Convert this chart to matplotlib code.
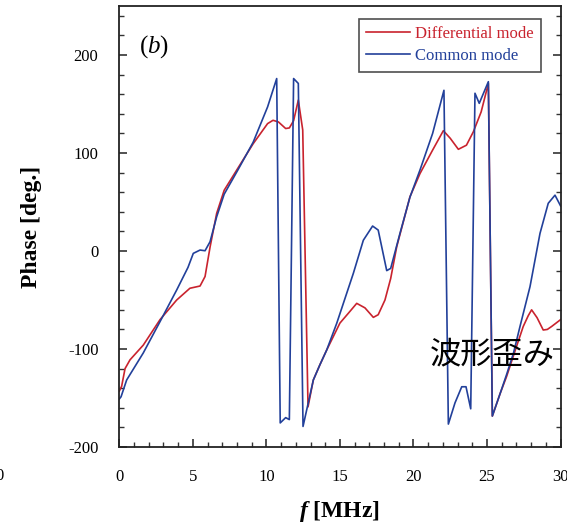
import matplotlib
matplotlib.use("Agg")
import matplotlib.pyplot as plt
from matplotlib.ticker import MultipleLocator

plt.rcParams['font.family'] = ['Liberation Serif', 'DejaVu Serif']
plt.rcParams['axes.unicode_minus'] = False
plt.rcParams['mathtext.fontset'] = 'custom'
plt.rcParams['mathtext.rm'] = 'Liberation Serif'
plt.rcParams['mathtext.it'] = 'Liberation Serif:italic'
plt.rcParams['mathtext.bf'] = 'Liberation Serif:bold'
plt.rcParams['mathtext.bfit'] = 'Liberation Serif:bold:italic'

# frequency [MHz] and phase [deg.]
f_diff = [0.0, 0.16, 0.39, 0.73, 1.63, 2.77, 3.9, 4.8, 5.49, 5.83, 6.17, 6.62, 7.13,
          8.11, 9.1, 10.08, 10.45, 10.82, 11.31, 11.56, 11.85, 12.17, 12.47, 12.83,
          13.19, 13.64, 14.1, 15.0, 15.6, 16.14, 16.7, 17.27, 17.6, 18.06, 18.45,
          18.86, 19.76, 20.44, 21.3, 22.03, 22.5, 23.05, 23.6, 24.07, 24.6, 25.09,
          25.36, 25.9, 26.33, 27.0, 27.46, 27.8, 28.03, 28.4, 28.82, 29.1, 29.39, 30.0]
ph_diff = [-143, -138, -120, -111, -96, -70, -50, -38, -35.7, -26, 4, 38.5, 62,
           85.7, 109.5, 130, 133.4, 131.7, 125, 125.6, 133, 154, 123.5, -159,
           -131.6, -116, -101, -73.5, -63, -53.4, -58, -67.7, -65, -50, -28,
           4.4, 55.4, 79, 103, 122.8, 115, 103.8, 108, 121.7, 142, 171,
           -168.4, -145, -128, -97.6, -77, -66, -60, -68, -80.6, -80, -77, -70]

f_comm = [0.0, 0.12, 0.5, 1.63, 2.77, 3.9, 4.67, 5.03, 5.49, 5.83, 6.17, 6.62, 7.13,
          8.11, 9.1, 10.08, 10.7, 10.94, 11.31, 11.56, 11.85, 12.17, 12.49, 13.19,
          13.64, 14.1, 14.78, 15.91, 16.59, 17.22, 17.6, 18.18, 18.45, 19.08, 19.76,
          20.44, 21.3, 22.07, 22.37, 22.82, 23.28, 23.57, 23.89, 24.18, 24.47, 25.09,
          25.36, 25.9, 26.33, 26.8, 27.24, 27.92, 28.6, 29.16, 29.62, 30.0]
ph_comm = [-151, -148.7, -131.6, -104, -72, -39.8, -16.7, -2.4, 1, 0.3, 9.5, 35, 58,
           84, 111, 147, 176, -175.4, -170, -172, 176, 171, -179, -131.6,
           -116, -101, -73.8, -22.8, 11, 25.5, 21.4, -20, -17.7, 18, 55,
           82.6, 120, 164, -176.6, -155, -138.5, -138.5, -161, 161, 150.7, 172.8,
           -168.4, -145, -126, -104, -77, -36.4, 18, 48.7, 57, 46]

red = '#c9232e'
blue = '#22409a'

fig = plt.figure(figsize=(5.67, 5.24), dpi=100)
ax = fig.add_axes([0.2104, 0.1469, 0.7783, 0.8416])

ax.plot(f_diff, ph_diff, color=red, lw=1.2, label='Differential mode')
ax.plot(f_comm, ph_comm, color=blue, lw=1.2, label='Common mode')

ax.set_xlim(0, 30)
ax.set_ylim(-200, 250)
ax.set_xticks([0, 5, 10, 15, 20, 25, 30])
ax.set_yticks([-200, -100, 0, 100, 200])
ax.xaxis.set_minor_locator(MultipleLocator(1))
ax.yaxis.set_minor_locator(MultipleLocator(20))
ax.tick_params(axis='x', which='both', direction='in', top=False, pad=16, labelsize=12)
ax.tick_params(axis='y', which='both', direction='in', right=True, pad=15, labelsize=12)
ax.tick_params(which='major', length=6, width=1.2, color='#333333')
ax.tick_params(which='minor', length=3.5, width=1.0, color='#333333')
for s in ax.spines.values():
    s.set_linewidth(1.3)
    s.set_color('#222222')

ax.set_xlabel(r'$\mathbfit{f}$ [MHz]', fontsize=17, fontweight='bold', labelpad=10)
ax.set_ylabel('Phase [deg.]', fontsize=17, fontweight='bold', labelpad=19)

leg = ax.legend(loc='upper right', bbox_to_anchor=(0.974, 0.99), fontsize=12,
                frameon=True, fancybox=False, edgecolor='#222222',
                handlelength=2.6, handletextpad=0.3, borderpad=0.45, labelspacing=0.35)
leg.get_frame().set_linewidth(1.2)
for txt, c in zip(leg.get_texts(), [red, blue]):
    txt.set_color(c)

ax.text(2.33, 209, r'($\mathit{b}$)', fontsize=18, ha='center', va='center')
ax.text(25.37, -105.6, '波形歪み', fontsize=22.5, ha='center', va='center',
        family=['Noto Sans CJK JP', 'DejaVu Sans'], zorder=5)

# cut-off tick label from the neighbouring panel
fig.text(0.0, 0.092, '0', fontsize=12, ha='center', va='center')

fig.savefig('out.png', dpi=100)
